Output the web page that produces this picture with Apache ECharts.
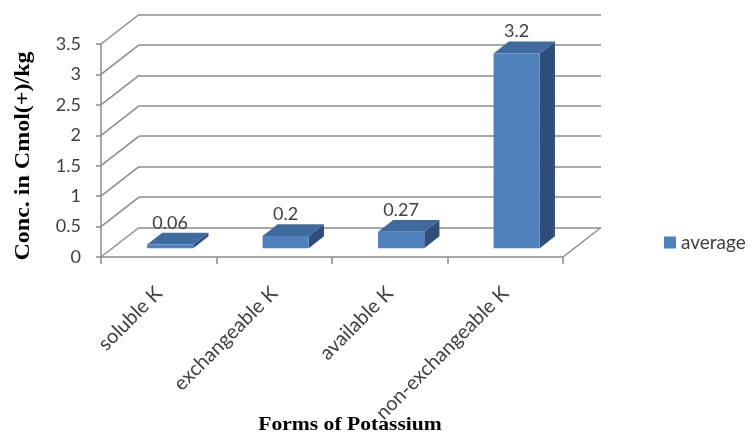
<!DOCTYPE html>
<html>
<head>
<meta charset="utf-8">
<script src="https://cdn.jsdelivr.net/npm/echarts@6/dist/echarts.min.js"></script>
<style>
  html, body { margin: 0; padding: 0; background: #fff; }
  #chart { width: 753px; height: 436px; }
</style>
</head>
<body>
<div id="chart"></div>
<script>
// Forms of potassium and their average concentration
const categories = ['soluble K', 'exchangeable K', 'available K', 'non-exchangeable K'];
const averageValues = [0.06, 0.2, 0.27, 3.2];
const seriesName = 'average';
const yTicks = [0, 0.5, 1, 1.5, 2, 2.5, 3, 3.5];

// 3D look: depth of the floor/walls in pixels, and where the columns sit within it
const DEPTH = [38, -29.5];
const BAR_FRONT = 0.3;   // fraction of depth in front of the column
const BAR_DEPTH = 0.4;   // fraction of depth taken by the column
const BAR_WIDTH = 0.4;   // fraction of a category band

const GRID_COLOR = '#8c8c8c';
const FRONT_COLOR = '#4F81BD';
const TOP_COLOR = '#3F6A9E';
const SIDE_COLOR = '#2F4F7A';
const TEXT_COLOR = '#404040';
const FONT = 'Lato, "Open Sans", sans-serif';
const TITLE_FONT = 'bold 18px "Liberation Serif", "Times New Roman", serif';

const chart = echarts.init(document.getElementById('chart'), null, { renderer: 'canvas' });

const front = { left: 101, right: 190, top: 44, bottom: 179 };
const back = {
  left: front.left + DEPTH[0],
  right: front.right - DEPTH[0],
  top: front.top + DEPTH[1],
  bottom: front.bottom - DEPTH[1]
};

// side wall and floor edges joining the front plane to the back wall
function frameItem(params, api) {
  const cs = params.coordSys;
  const v = api.value(0);
  const y = api.coord([0, v])[1];
  const children = [{
    type: 'line',
    shape: { x1: cs.x, y1: y, x2: cs.x + DEPTH[0], y2: y + DEPTH[1] },
    style: { stroke: GRID_COLOR, lineWidth: 1.5 }
  }];
  if (v === 0) {
    children.push({
      type: 'line',
      shape: { x1: cs.x + cs.width, y1: y, x2: cs.x + cs.width + DEPTH[0], y2: y + DEPTH[1] },
      style: { stroke: GRID_COLOR, lineWidth: 1.5 }
    });
  }
  return { type: 'group', children: children };
}

// one 3D column: side face, top face, front face and value label
function barItem(params, api) {
  const i = api.value(0);
  const v = api.value(1);
  const top = api.coord([i, v]);
  const base = api.coord([i, 0]);
  const band = api.size([1, 0])[0];
  const w = band * BAR_WIDTH;
  const fx = DEPTH[0] * BAR_FRONT, fy = DEPTH[1] * BAR_FRONT;
  const dx = DEPTH[0] * BAR_DEPTH, dy = DEPTH[1] * BAR_DEPTH;
  const x0 = top[0] - w / 2 + fx, x1 = top[0] + w / 2 + fx;
  const yt = top[1] + fy, yb = base[1] + fy;
  return {
    type: 'group',
    children: [
      {
        type: 'polygon',
        shape: { points: [[x1, yt], [x1 + dx, yt + dy], [x1 + dx, yb + dy], [x1, yb]] },
        style: { fill: SIDE_COLOR }
      },
      {
        type: 'polygon',
        shape: { points: [[x0, yt], [x0 + dx, yt + dy], [x1 + dx, yt + dy], [x1, yt]] },
        style: { fill: TOP_COLOR }
      },
      {
        type: 'rect',
        shape: { x: x0, y: yt, width: x1 - x0, height: yb - yt },
        style: { fill: FRONT_COLOR }
      },
      {
        type: 'text',
        x: top[0] + fx,
        y: yt + dy - 10,
        style: {
          text: String(v),
          fill: TEXT_COLOR,
          font: '18px ' + FONT,
          align: 'center',
          verticalAlign: 'middle'
        }
      }
    ]
  };
}

chart.setOption({
  animation: false,
  backgroundColor: '#ffffff',
  grid: [
    { left: front.left, right: front.right, top: front.top, bottom: front.bottom },
    { left: back.left, right: back.right, top: back.top, bottom: back.bottom }
  ],
  xAxis: [
    {
      type: 'category',
      gridIndex: 0,
      data: categories,
      axisLine: { show: true, lineStyle: { color: GRID_COLOR, width: 1.5 } },
      axisTick: { show: true, length: 7, lineStyle: { color: GRID_COLOR, width: 1.5 } },
      axisLabel: {
        rotate: 45,
        margin: 33,
        interval: 0,
        fontSize: 20,
        fontFamily: FONT,
        color: TEXT_COLOR
      }
    },
    {
      type: 'category',
      gridIndex: 1,
      data: categories,
      show: false
    }
  ],
  yAxis: [
    {
      type: 'value',
      gridIndex: 0,
      min: 0,
      max: 3.5,
      interval: 0.5,
      axisLine: { show: true, lineStyle: { color: GRID_COLOR, width: 1.5 } },
      axisTick: { show: true, length: 5, lineStyle: { color: GRID_COLOR, width: 1.5 } },
      splitLine: { show: false },
      axisLabel: { fontSize: 18, fontFamily: FONT, color: TEXT_COLOR, margin: 20 }
    },
    {
      type: 'value',
      gridIndex: 1,
      min: 0,
      max: 3.5,
      interval: 0.5,
      axisLine: { show: false },
      axisTick: { show: false },
      axisLabel: { show: false },
      splitLine: { show: true, lineStyle: { color: GRID_COLOR, width: 1.5 } }
    }
  ],
  legend: {
    data: [seriesName],
    left: 659,
    top: 228,
    icon: 'rect',
    itemWidth: 12,
    itemHeight: 12,
    textStyle: { fontSize: 19, fontFamily: FONT, color: TEXT_COLOR }
  },
  graphic: [
    {
      type: 'text',
      x: 24,
      y: 156,
      rotation: Math.PI / 2,
      scaleX: 1.2,
      style: {
        text: 'Conc. in Cmol(+)/kg',
        font: 'bold 20px "Liberation Serif", "Times New Roman", serif',
        fill: '#000',
        align: 'center',
        verticalAlign: 'middle'
      }
    },
    {
      type: 'text',
      x: 350,
      y: 425,
      scaleX: 1.2,
      style: {
        text: 'Forms of Potassium',
        font: TITLE_FONT,
        fill: '#000',
        align: 'center',
        verticalAlign: 'middle'
      }
    }
  ],
  series: [
    {
      type: 'custom',
      name: 'frame',
      xAxisIndex: 0,
      yAxisIndex: 0,
      silent: true,
      data: yTicks.map(function (t) { return [t]; }),
      renderItem: frameItem,
      z: 1
    },
    {
      type: 'custom',
      name: seriesName,
      xAxisIndex: 0,
      yAxisIndex: 0,
      itemStyle: { color: FRONT_COLOR },
      data: averageValues.map(function (v, i) { return [i, v]; }),
      encode: { x: 0, y: 1 },
      renderItem: barItem,
      z: 3
    }
  ]
});
</script>
</body>
</html>
